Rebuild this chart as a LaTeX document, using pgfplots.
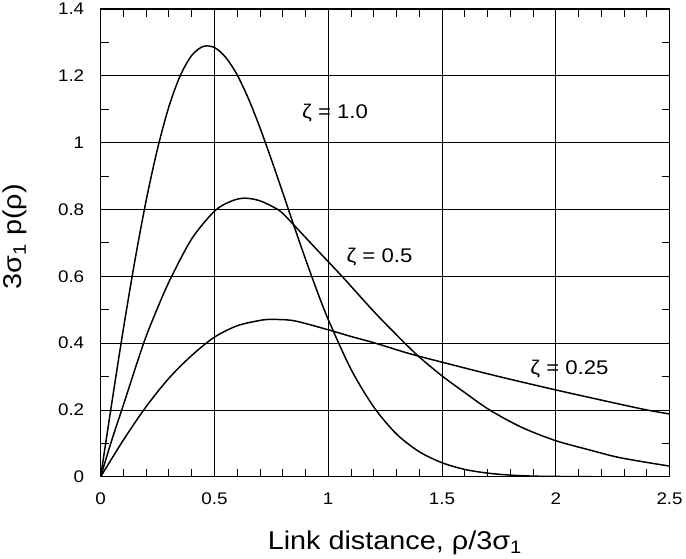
\documentclass[border=0pt]{standalone}
\usepackage{fontspec}
\setmainfont{Liberation Sans}[FakeStretch=1.12]
\usepackage{pgfplots}
\pgfplotsset{compat=1.18}

\begin{document}
\begin{tikzpicture}
\begin{axis}[
  scale only axis, width=573bp, height=471bp,
  xmin=0, xmax=2.5, ymin=0, ymax=1.4,
  xtick={0,0.5,1,1.5,2,2.5}, ytick={0,0.2,0.4,0.6,0.8,1,1.2,1.4},
  minor x tick num=4, minor y tick num=1,
  grid=major, major grid style={black, line width=0.8pt},
  tick align=inside, major tick length=8bp, minor tick length=8bp,
  tick style={black, line width=0.9pt},
  axis line style={line width=1.3pt},
  /pgf/number format/assume math mode=true,
  ticklabel style={font=\fontsize{17}{19}\selectfont},
  xticklabel style={yshift=-13bp},
  yticklabel style={xshift=-13bp},
  xlabel={Link distance, ρ/3σ\textsubscript{1}},
  ylabel={3σ\textsubscript{1} p(ρ)},
  label style={font=\fontsize{26}{30}\selectfont},
  xlabel style={at={(axis description cs:0.517,-0.142)}, anchor=center},
  ylabel style={at={(axis description cs:-0.15,0.513)}, anchor=center},
]
% zeta = 1.0
\addplot[black, line width=1.5pt, smooth] coordinates {
  (0,0) (0.05,0.225) (0.1,0.443) (0.15,0.645) (0.2,0.827) (0.25,0.982)
  (0.3,1.108) (0.35,1.201) (0.4,1.261) (0.45,1.288) (0.5,1.285)
  (0.55,1.255) (0.6,1.203) (0.65,1.131) (0.7,1.045) (0.75,0.950)
  (0.8,0.851) (0.85,0.750) (0.9,0.652) (0.95,0.558) (1.0,0.471)
  (1.1,0.322) (1.2,0.209) (1.3,0.128) (1.4,0.075) (1.5,0.042)
  (1.6,0.022) (1.7,0.011) (1.8,0.005) (1.9,0.002) (2.0,0.001)
  (2.2,0.0) (2.5,0.0)};
% zeta = 0.5
\addplot[black, line width=1.5pt, smooth] coordinates {
  (0,0) (0.05,0.112) (0.1,0.215) (0.189,0.40) (0.25,0.505) (0.305,0.59)
  (0.4,0.712) (0.5,0.795) (0.57,0.824) (0.63,0.834) (0.7,0.826)
  (0.785,0.797) (0.843,0.758) (0.95,0.68) (1.062,0.599) (1.2,0.495)
  (1.3,0.425) (1.396,0.361) (1.5,0.302) (1.6,0.252) (1.709,0.20)
  (1.85,0.148) (2.0,0.108) (2.15,0.08) (2.269,0.059) (2.4,0.043) (2.5,0.032)};
% zeta = 0.25
\addplot[black, line width=1.5pt, smooth] coordinates {
  (0,0) (0.1,0.11) (0.2,0.21) (0.3,0.295) (0.4,0.363) (0.5,0.418)
  (0.6,0.452) (0.7,0.468) (0.75,0.471) (0.85,0.467) (1.0,0.44)
  (1.1,0.42) (1.207,0.40) (1.35,0.37) (1.5,0.343) (1.75,0.30)
  (2.0,0.26) (2.25,0.222) (2.4,0.20) (2.5,0.188)};
\node[font=\fontsize{20}{22}\selectfont] at (axis cs:1.03,1.089) {ζ = 1.0};
\node[font=\fontsize{20}{22}\selectfont] at (axis cs:1.225,0.658) {ζ = 0.5};
\node[font=\fontsize{20}{22}\selectfont] at (axis cs:2.06,0.322) {ζ = 0.25};
\end{axis}
\end{tikzpicture}
\end{document}
